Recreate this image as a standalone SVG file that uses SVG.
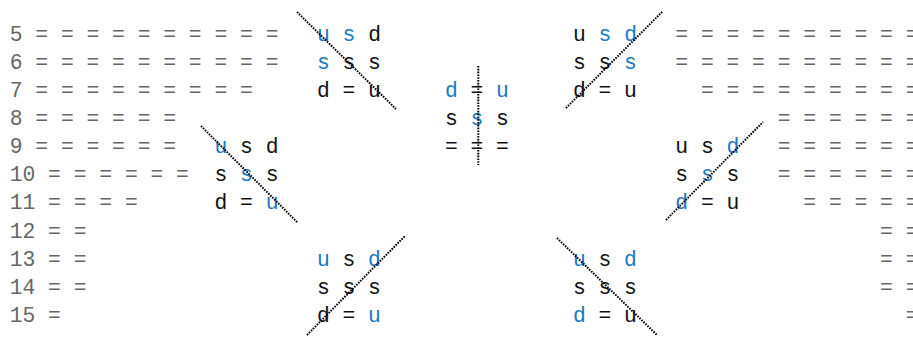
<svg xmlns="http://www.w3.org/2000/svg" width="913" height="337" viewBox="0 0 913 337">
<style>
text{font-family:"Liberation Mono","Courier New",monospace;font-size:21.33px;white-space:pre}
.side{fill:#666}
.g{fill:#111}
.b{fill:#1a78c2}
.cut{stroke:#000;stroke-width:2;stroke-dasharray:1.6 1.2;fill:none}
</style>
<rect width="913" height="337" fill="#fff"/>
<g id="rows" class="side" xml:space="preserve">
<text x="9.7" y="40.5">5 = = = = = = = = = =</text>
<text x="9.7" y="68.65">6 = = = = = = = = = =</text>
<text x="9.7" y="96.8">7 = = = = = = = = =</text>
<text x="9.7" y="124.95">8 = = = = = =</text>
<text x="9.7" y="153.1">9 = = = = = =</text>
<text x="9.7" y="181.25">10 = = = = = =</text>
<text x="9.7" y="209.4">11 = = = =</text>
<text x="9.7" y="237.55">12 = =</text>
<text x="9.7" y="265.7">13 = =</text>
<text x="9.7" y="293.85">14 = =</text>
<text x="9.7" y="322">15 =</text>
<text x="675.3" y="40.5">= = = = = = = = = =</text>
<text x="675.3" y="68.65">= = = = = = = = = =</text>
<text x="700.9" y="96.8">= = = = = = = = =</text>
<text x="777.7" y="124.95">= = = = = =</text>
<text x="777.7" y="153.1">= = = = = =</text>
<text x="777.7" y="181.25">= = = = = =</text>
<text x="803.3" y="209.4">= = = = =</text>
<text x="880.1" y="237.55">= =</text>
<text x="880.1" y="265.7">= =</text>
<text x="880.1" y="293.85">= =</text>
<text x="905.7" y="322">=</text>
</g>
<g id="nodeA" class="g" xml:space="preserve">
<text x="316.9" y="40.5"><tspan class="b">u</tspan> <tspan class="b">s</tspan> d</text>
<text x="316.9" y="68.65"><tspan class="b">s</tspan> s s</text>
<text x="316.9" y="96.8">d = u</text>
</g>
<g id="nodeB" class="g" xml:space="preserve">
<text x="444.9" y="96.8"><tspan class="b">d</tspan> = <tspan class="b">u</tspan></text>
<text x="444.9" y="124.95">s <tspan class="b">s</tspan> s</text>
<text x="444.9" y="153.1">= = =</text>
</g>
<g id="nodeC" class="g" xml:space="preserve">
<text x="572.9" y="40.5">u <tspan class="b">s</tspan> <tspan class="b">d</tspan></text>
<text x="572.9" y="68.65">s s <tspan class="b">s</tspan></text>
<text x="572.9" y="96.8">d = u</text>
</g>
<g id="nodeD" class="g" xml:space="preserve">
<text x="675.3" y="153.1">u s <tspan class="b">d</tspan></text>
<text x="675.3" y="181.25">s <tspan class="b">s</tspan> s</text>
<text x="675.3" y="209.4"><tspan class="b">d</tspan> = u</text>
</g>
<g id="nodeE" class="g" xml:space="preserve">
<text x="214.5" y="153.1"><tspan class="b">u</tspan> s d</text>
<text x="214.5" y="181.25">s <tspan class="b">s</tspan> s</text>
<text x="214.5" y="209.4">d = <tspan class="b">u</tspan></text>
</g>
<g id="nodeF" class="g" xml:space="preserve">
<text x="316.9" y="265.7"><tspan class="b">u</tspan> s <tspan class="b">d</tspan></text>
<text x="316.9" y="293.85">s s s</text>
<text x="316.9" y="322">d = <tspan class="b">u</tspan></text>
</g>
<g id="nodeG" class="g" xml:space="preserve">
<text x="572.9" y="265.7"><tspan class="b">u</tspan> s <tspan class="b">d</tspan></text>
<text x="572.9" y="293.85">s s s</text>
<text x="572.9" y="322"><tspan class="b">d</tspan> = u</text>
</g>
<g id="connectors" class="cut">
<line x1="297" y1="12" x2="396" y2="109"/>
<line x1="478.3" y1="66" x2="478.3" y2="165"/>
<line x1="566" y1="108" x2="663" y2="11"/>
<line x1="666" y1="220" x2="763" y2="122"/>
<line x1="201" y1="126" x2="298" y2="223"/>
<line x1="307" y1="335" x2="405" y2="236"/>
<line x1="557" y1="238" x2="657" y2="335"/>
</g>
</svg>
